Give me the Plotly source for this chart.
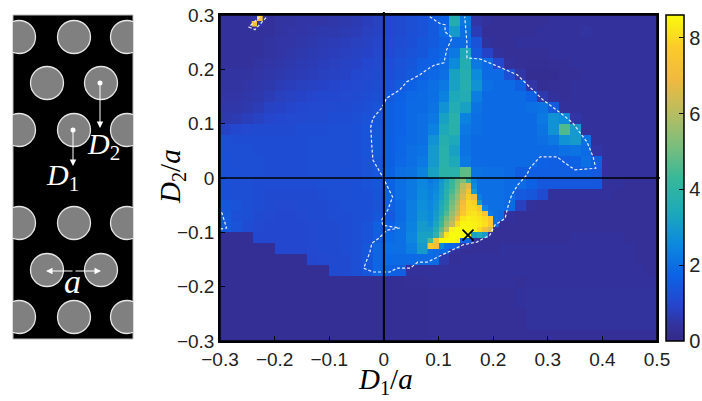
import plotly.graph_objects as go

# ---- main map, coarse cells (centres every 0.02) ----
x_centres = [round(-0.29 + 0.02 * i, 2) for i in range(40)]
y_centres = [round(0.29 - 0.02 * j, 2) for j in range(30)]

z_rows = [
 [.4,.4,.4,.4,.4,.45,.45,.5,.5,.5,.55,.6,.65,.75,.85, 1.0,1.1,1.2,1.3,1.5,1.7,3.6,2.2,.5,.35,.3,.3,.3,.3,.3,.4,.4,.4,.4,.4,.35,.35,.35,.35,.35],
 [.4,.4,.4,.4,.4,.45,.5,.5,.55,.6,.6,.65,.7,.8,.9, 1.0,1.1,1.2,1.3,1.5,1.9,3.0,2.0,.7,.3,.3,.3,.3,.3,.35,.4,.4,.4,.45,.4,.35,.35,.35,.35,.35],
 [.4,.4,.4,.4,.45,.5,.5,.55,.6,.65,.7,.75,.8,.85,.95, 1.05,1.15,1.25,1.4,1.5,1.7,1.9,1.9,1.3,.4,.3,.3,.35,.35,.35,.4,.4,.4,.4,.4,.35,.35,.35,.35,.35],
 [.4,.4,.4,.4,.45,.5,.55,.6,.65,.7,.75,.8,.85,.9,1.0, 1.1,1.2,1.3,1.4,1.6,1.8,2.2,3.4,1.5,.9,.35,.3,.3,.3,.3,.4,.4,.4,.4,.4,.35,.35,.35,.35,.35],
 [.4,.4,.4,.45,.5,.55,.6,.65,.7,.75,.8,.85,.9,1.0,1.05, 1.2,1.3,1.4,1.6,1.7,1.9,2.6,3.6,2.2,1.9,1.0,.4,.3,.25,.25,.3,.3,.35,.35,.35,.35,.35,.35,.35,.35],
 [.45,.45,.45,.5,.55,.6,.65,.7,.75,.8,.85,.9,1.0,1.05,1.1, 1.25,1.35,1.5,1.7,1.85,2.0,3.2,3.7,2.6,1.9,1.9,1.2,.5,.2,.2,.2,.3,.3,.35,.35,.35,.35,.35,.35,.35],
 [.45,.45,.5,.55,.6,.7,.75,.8,.85,.9,.95,1.0,1.05,1.1,1.15, 1.3,1.5,1.7,1.85,2.0,2.2,3.2,3.7,2.8,2.0,1.9,1.9,1.6,.5,.25,.3,.3,.35,.35,.35,.35,.35,.35,.35,.35],
 [.5,.5,.55,.6,.7,.8,.85,.9,.95,1.0,1.0,1.05,1.1,1.15,1.25, 1.5,1.7,1.85,1.9,2.0,2.4,3.4,3.6,2.3,1.9,1.9,1.9,1.9,1.7,.6,.35,.3,.35,.35,.35,.35,.35,.35,.35,.35],
 [.55,.55,.6,.7,.85,.9,.95,1.0,1.05,1.05,1.1,1.1,1.15,1.2,1.3, 1.6,1.75,1.9,1.9,2.1,2.8,3.6,3.2,2.1,1.9,1.9,1.9,1.9,2.0,2.1,1.5,.4,.35,.35,.35,.35,.35,.35,.35,.35],
 [.6,.65,.75,.85,.95,1.0,1.05,1.05,1.1,1.1,1.15,1.15,1.2,1.3,1.4, 1.6,1.75,1.9,2.0,2.2,3.2,3.8,2.4,2.0,1.9,1.9,1.9,1.9,1.9,2.2,2.8,2.6,.5,.35,.35,.35,.35,.35,.35,.35],
 [.9,1.0,1.05,1.1,1.1,1.1,1.1,1.15,1.15,1.15,1.2,1.2,1.25,1.35,1.45, 1.6,1.75,1.9,2.0,2.4,3.4,3.8,2.2,2.0,1.9,1.9,1.9,1.9,1.9,2.1,2.8,4.6,3.0,.4,.35,.35,.35,.35,.35,.35],
 [1.2,1.15,1.15,1.15,1.15,1.15,1.15,1.15,1.2,1.2,1.2,1.2,1.25,1.35,1.5, 1.65,1.8,1.9,2.0,2.8,3.7,3.4,2.1,1.9,1.9,1.9,1.9,1.9,1.9,2.0,2.2,2.8,3.0,2.0,.4,.35,.35,.35,.35,.35],
 [1.2,1.2,1.2,1.15,1.15,1.15,1.15,1.15,1.2,1.2,1.2,1.2,1.25,1.35,1.5, 1.65,1.8,2.0,2.1,3.0,3.8,3.2,2.1,1.9,1.9,1.9,1.9,1.9,1.9,1.9,1.9,2.0,2.1,1.9,.5,.35,.35,.35,.35,.35],
 [1.25,1.2,1.2,1.2,1.15,1.15,1.15,1.15,1.2,1.2,1.2,1.2,1.25,1.3,1.45, 1.65,1.85,2.0,2.2,3.0,3.8,3.4,2.2,1.9,1.9,1.9,1.9,1.9,1.9,1.7,1.6,1.6,1.7,2.0,1.6,.4,.35,.35,.35,.35],
 [1.25,1.25,1.2,1.2,1.15,1.15,1.15,1.15,1.2,1.2,1.2,1.25,1.25,1.3,1.45, 1.7,2.0,2.1,2.4,3.2,3.9,3.8,4.8,2.1,2.0,2.0,1.9,1.6,1.6,1.6,1.6,1.6,1.6,1.6,1.5,.4,.35,.35,.35,.35],
 [1.25,1.2,1.2,1.15,1.15,1.15,1.15,1.15,1.15,1.2,1.2,1.2,1.25,1.3,1.4, 1.7,2.0,2.2,2.5,3.0,3.4,4.2,5.0,2.4,2.0,2.0,1.9,1.9,1.7,1.45,1.45,1.45,1.45,1.45,1.45,.4,.35,.3,.3,.3],
 [1.25,1.2,1.2,1.15,1.1,1.1,1.1,1.1,1.1,1.15,1.2,1.2,1.25,1.25,1.35, 1.7,2.0,2.2,2.6,3.1,3.8,4.5,7.4,3.0,2.0,2.0,1.9,1.5,1.4,1.1,.4,.4,.35,.35,.35,.35,.3,.3,.3,.3],
 [1.4,1.3,1.2,1.15,1.1,1.05,1.05,1.1,1.1,1.1,1.15,1.2,1.2,1.25,1.3, 1.6,1.9,2.3,2.7,3.4,4.1,5.0,8.0,7.8,3.0,2.0,1.9,.8,.35,.3,.3,.3,.3,.3,.3,.3,.3,.3,.3,.3],
 [1.5,1.25,1.2,1.1,1.05,1.0,1.0,1.05,1.1,1.1,1.15,1.15,1.2,1.25,1.4, 1.5,1.9,2.3,2.8,3.7,4.6,5.5,8.1,8.2,7.5,1.9,.4,.3,.3,.3,.3,.3,.3,.3,.3,.3,.3,.3,.3,.3],
 [1.5,1.3,1.15,1.05,1.0,1.0,1.0,1.0,1.05,1.1,1.1,1.15,1.2,1.3,1.6, 1.7,2.0,2.4,3.0,4.3,5.4,8.0,8.5,8.3,7.6,.3,.3,.3,.3,.3,.3,.3,.3,.3,.3,.3,.3,.3,.3,.3],
 [.25,.25,.25,1.0,1.0,1.0,1.0,1.0,1.05,1.1,1.1,1.15,1.2,1.3,1.6, 1.9,2.0,2.5,3.2,7.5,8.6,8.6,8.6,3.5,.4,.3,.3,.3,.3,.3,.3,.3,.35,.35,.35,.35,.4,.3,.3,.3],
 [.25,.25,.25,.25,.25,1.0,1.0,1.0,1.05,1.1,1.1,1.15,1.2,1.4,1.8, 2.0,2.0,2.3,3.0,7.2,2.0,1.6,.4,.3,.3,.35,.4,.4,.4,.4,.4,.4,.4,.4,.4,.4,.4,.35,.3,.3],
 [.25,.25,.25,.25,.25,.25,.25,.25,1.0,1.05,1.1,1.1,1.2,1.4,1.8, 1.9,1.9,1.9,1.9,1.9,.6,.3,.35,.4,.4,.4,.4,.4,.4,.4,.4,.4,.4,.4,.4,.4,.4,.4,.3,.3],
 [.25,.25,.25,.25,.25,.25,.25,.25,.25,.25,1.1,1.1,1.2,1.4,1.8, 1.7,1.6,.4,.35,.4,.4,.4,.4,.4,.4,.4,.4,.4,.4,.4,.4,.4,.4,.4,.4,.4,.4,.4,.35,.3],
 [.25,.25,.25,.25,.25,.25,.25,.25,.25,.25,.25,.25,.25,.25,.25, .25,.25,.3,.3,.35,.35,.35,.35,.35,.35,.35,.35,.3,.4,.4,.4,.4,.4,.4,.4,.4,.4,.4,.4,.4],
 [.25,.25,.25,.25,.25,.25,.25,.25,.25,.25,.25,.25,.25,.25,.25, .25,.25,.25,.25,.3,.3,.3,.3,.3,.3,.3,.3,.35,.42,.42,.42,.42,.42,.42,.42,.42,.42,.42,.42,.42],
 [.25,.25,.25,.25,.25,.25,.25,.25,.25,.25,.25,.25,.25,.25,.25, .25,.25,.25,.25,.3,.3,.3,.3,.3,.3,.3,.3,.35,.42,.42,.42,.42,.42,.42,.42,.42,.42,.42,.42,.42],
 [.25,.25,.25,.25,.25,.25,.25,.25,.25,.25,.25,.25,.25,.25,.25, .25,.25,.25,.25,.3,.3,.3,.3,.3,.3,.3,.3,.3,.42,.42,.42,.42,.42,.42,.42,.42,.42,.42,.42,.42],
 [.25,.25,.25,.25,.25,.25,.25,.25,.25,.25,.25,.25,.25,.25,.25, .25,.25,.25,.25,.3,.3,.3,.3,.3,.3,.3,.3,.3,.42,.42,.42,.42,.42,.42,.42,.42,.42,.42,.42,.42],
 [.25,.25,.25,.25,.25,.25,.25,.25,.25,.25,.25,.25,.25,.25,.25, .25,.25,.25,.25,.3,.3,.3,.3,.3,.3,.3,.3,.3,.3,.3,.3,.3,.3,.3,.3,.3,.3,.3,.3,.3],
]

# ---- finer cells round the hot spot ----
hot_x = [.085,.095,.105,.115,.125,.135,.145,.155,.165,.175,.185,.195,.205]
hot_y = [-.005,-.015,-.025,-.035,-.045,-.055,-.065,-.075,-.085,-.095,-.105,-.115,-.125,-.135]
hot_z = [
 [2.2,2.4,2.9,3.4,4.2,4.9,5.2,4.0,2.4,2.0,2.0,2.0,2.0],
 [2.3,2.5,3.0,3.6,4.3,5.0,6.0,6.6,2.6,2.0,2.0,2.0,2.0],
 [2.4,2.6,3.1,3.8,4.5,5.2,6.2,7.4,3.0,2.0,2.0,2.0,2.0],
 [2.4,2.7,3.2,3.9,4.8,5.5,6.5,7.8,7.0,2.3,2.0,2.0,2.0],
 [2.5,2.8,3.4,4.1,5.0,5.8,7.0,8.0,7.8,3.0,2.0,2.0,2.0],
 [2.5,2.9,3.5,4.3,5.2,6.0,7.3,8.0,8.0,7.6,2.5,2.0,2.0],
 [2.6,3.0,3.7,4.6,5.5,6.3,7.6,8.1,8.2,8.0,7.5,2.2,2.0],
 [2.6,3.1,4.0,5.0,5.8,7.0,8.2,8.4,8.3,8.2,8.0,7.5,2.0],
 [2.7,3.3,4.3,5.4,6.2,8.0,8.5,8.5,8.4,8.3,8.1,7.6,1.9],
 [3.0,3.6,4.8,6.0,8.4,8.6,8.6,8.5,8.5,8.0,7.2,6.5,.3],
 [3.2,4.0,5.5,8.2,8.6,8.6,8.6,8.6,3.2,3.5,3.0,.4,.3],
 [4.5,7.5,8.6,8.6,8.6,8.5,1.8,1.8,.5,.4,.3,.3,.3],
 [7.6,7.2,2.6,2.0,1.8,1.6,.5,.4,.3,.3,.3,.3,.3],
 [2.0,1.9,1.9,1.9,.5,.4,.3,.3,.3,.3,.3,.3,.3],
]

# ---- isolated cells in the top left corner ----
speck_x = [-.237, -.227]
speck_y = [.284, .294]
speck_z = [[7.4, .5], [.5, 7.4]]

# ---- white dashed outlines ----
main_x = [.084,.103,.112,.112,.125,.115,.110,.093,.084,.066,.042,.029,.005,-.004,-.020,-.024,-.022,-.020,-.002,.016,.007,-.004,-.002,.029,.005,-.007,-.022,-.026,-.037,-.020,.011,.024,.048,.062,.079,.115,.145,.170,.194,.203,.222,.227,.234,.245,.262,.267,.286,.317,.331,.350,.388,.383,.372,.346,.328,.291,.244,.212,.176,.152,.152,.148]
main_y = [.297,.284,.282,.269,.258,.236,.212,.208,.203,.190,.177,.162,.147,.129,.110,.094,.057,.033,.002,-.035,-.059,-.077,-.087,-.092,-.096,-.109,-.120,-.138,-.166,-.173,-.173,-.166,-.166,-.155,-.155,-.138,-.123,-.118,-.105,-.087,-.074,-.053,-.031,-.013,.006,.018,.039,.039,.028,.015,.018,.039,.066,.101,.116,.144,.190,.204,.219,.221,.249,.297]
left_x = [-.297,-.288,-.300]
left_y = [-.063,-.092,-.094]
speck_line_x = [-.227,-.247,-.236,-.214]
speck_line_y = [.297,.278,.273,.297]
cross_x = [.154]
cross_y = [-.105]

# ---- ticks ----
x_ticks = [-.3,-.2,-.1,0,.1,.2,.3,.4,.5]
x_labels = ["−0.3","−0.2","−0.1","0","0.1","0.2","0.3","0.4","0.5"]
y_ticks = [-.3,-.2,-.1,0,.1,.2,.3]
y_labels = ["−0.3","−0.2","−0.1","0","0.1","0.2","0.3"]
bar_ticks = [0,2,4,6,8]

# ---- schematic lattice ----
disc_x = [19,74,127, 47,101, 19,74,127, 19,74,127, 47,101, 19,74,127]
disc_y = [37,37,37, 83,83, 130,130,130, 223,223,223, 270,270, 317,317,317]
pin_x = [73,100]
pin_y = [130,83]

parula = [
 [0.0,"#352a87"],[0.05,"#33339f"],[0.11,"#2545cc"],[0.2,"#0c62e6"],[0.3,"#0c8ade"],
 [0.4,"#1eaab8"],[0.5,"#38b899"],[0.6,"#7cbe7c"],[0.7,"#b8bd60"],[0.8,"#f0b940"],
 [0.9,"#fcca2a"],[1.0,"#f9fb0e"],
]
W, H = 702, 401
Z0, Z1 = 0, 8.6
fig = go.Figure()
fig.add_trace(go.Heatmap(x=x_centres, y=y_centres, z=z_rows, zmin=Z0, zmax=Z1, colorscale=parula, hoverinfo="skip",
    colorbar=dict(x=666/W, xanchor="left", y=1-178/H, yanchor="middle", len=326/H, lenmode="fraction", thickness=18,
                  xpad=0, ypad=0, outlinecolor="black", outlinewidth=1.5, tickvals=bar_ticks, ticks="inside", ticklen=5,
                  tickcolor="black", tickfont=dict(family="Liberation Sans", size=20, color="#222"))))
fig.add_trace(go.Heatmap(x=hot_x, y=hot_y, z=hot_z, zmin=Z0, zmax=Z1, colorscale=parula, showscale=False, hoverinfo="skip"))
fig.add_trace(go.Heatmap(x=speck_x, y=speck_y, z=speck_z, zmin=Z0, zmax=Z1, colorscale=parula, showscale=False, hoverinfo="skip"))
for lx, ly in [(main_x, main_y), (left_x, left_y), (speck_line_x, speck_line_y)]:
    fig.add_trace(go.Scatter(x=lx, y=ly, mode="lines", line=dict(color="#e8eef8", width=1.2, dash="3px,2px"), hoverinfo="skip", showlegend=False))
fig.add_trace(go.Scatter(x=cross_x, y=cross_y, mode="markers", hoverinfo="skip", showlegend=False,
    marker=dict(symbol="x-thin", size=11, line=dict(color="black", width=1.8))))

fig.add_trace(go.Scatter(x=disc_x, y=disc_y, xaxis="x2", yaxis="y2", mode="markers", hoverinfo="skip", showlegend=False,
    marker=dict(size=33, color="#808080", line=dict(color="#e6e6e6", width=1.3))))
fig.add_trace(go.Scatter(x=pin_x, y=pin_y, xaxis="x2", yaxis="y2", mode="markers", hoverinfo="skip", showlegend=False,
    marker=dict(size=5, color="white")))

axis = dict(showgrid=False, showline=True, linecolor="black", linewidth=1.5, mirror=True, ticks="inside", ticklen=5,
            tickcolor="black", zeroline=False,
            tickfont=dict(family="Liberation Sans", size=19, color="#222"))
L, R, T, B = 220/W, 657/W, 1-15/H, 1-341/H
fig.update_layout(
    width=W, height=H, margin=dict(l=0, r=0, t=0, b=0, autoexpand=False), paper_bgcolor="white", plot_bgcolor="white", showlegend=False,
    xaxis=dict(axis, domain=[L, R], range=[-.3,.5], tickvals=x_ticks, ticktext=x_labels),
    yaxis=dict(axis, domain=[B, T], range=[-.3,.3], tickvals=y_ticks, ticktext=y_labels),
    xaxis2=dict(domain=[13/W, 133/W], range=[13,133], anchor="y2", visible=False),
    yaxis2=dict(domain=[1-339/H, 1-15/H], range=[339,15], anchor="x2", visible=False),
    shapes=[dict(type="rect", xref="x2 domain", yref="y2 domain", x0=0, x1=1, y0=0, y1=1, fillcolor="black",
                 line=dict(color="#bbbbbb", width=1), layer="below"),
            dict(type="rect", xref="paper", yref="paper", x0=L, x1=R, y0=B, y1=T, line=dict(color="black", width=1.5), layer="above"),
            dict(type="line", xref="x", yref="paper", x0=0, x1=0, y0=B, y1=1-12/H, line=dict(color="black", width=2), layer="above"),
            dict(type="line", xref="paper", yref="y", x0=L, x1=660/W, y0=0, y1=0, line=dict(color="black", width=1.7), layer="above")],
)
title_font = dict(family="Liberation Serif", size=29, color="black")
fig.add_annotation(xref="paper", yref="paper", x=385/W, y=1-381/H, xanchor="center", yanchor="middle", showarrow=False, font=title_font, text="<i>D</i><sub>1</sub>/<i>a</i>")
fig.add_annotation(xref="paper", yref="paper", x=172/W, y=1-177/H, xanchor="center", yanchor="middle", showarrow=False, font=title_font, textangle=-90, text="<i>D</i><sub>2</sub>/<i>a</i>")
arrow = dict(xref="x2", yref="y2", axref="x2", ayref="y2", text="", showarrow=True, arrowcolor="white", arrowwidth=1, arrowhead=2, arrowsize=1.3)
fig.add_annotation(arrow, x=73, y=166, ax=73, ay=130)
fig.add_annotation(arrow, x=100, y=128, ax=100, ay=83)
fig.add_annotation(arrow, x=46, y=271, ax=74, ay=271)
fig.add_annotation(arrow, x=101, y=271, ax=74, ay=271)
lab = dict(xref="x2", yref="y2", showarrow=False, font=dict(family="Liberation Serif", size=30, color="white"))
fig.add_annotation(lab, x=62, y=177, text="<i>D</i><sub>1</sub>")
fig.add_annotation(lab, x=103, y=146, text="<i>D</i><sub>2</sub>")
fig.add_annotation(lab, x=72, y=281, text="<i>a</i>", font=dict(family="Liberation Serif", size=34, color="white"))

assert all(len(r) == 40 for r in z_rows) and len(z_rows) == 30
fig.write_html("out.html", config={"displayModeBar": False}, post_script="document.body.style.margin='0';")
